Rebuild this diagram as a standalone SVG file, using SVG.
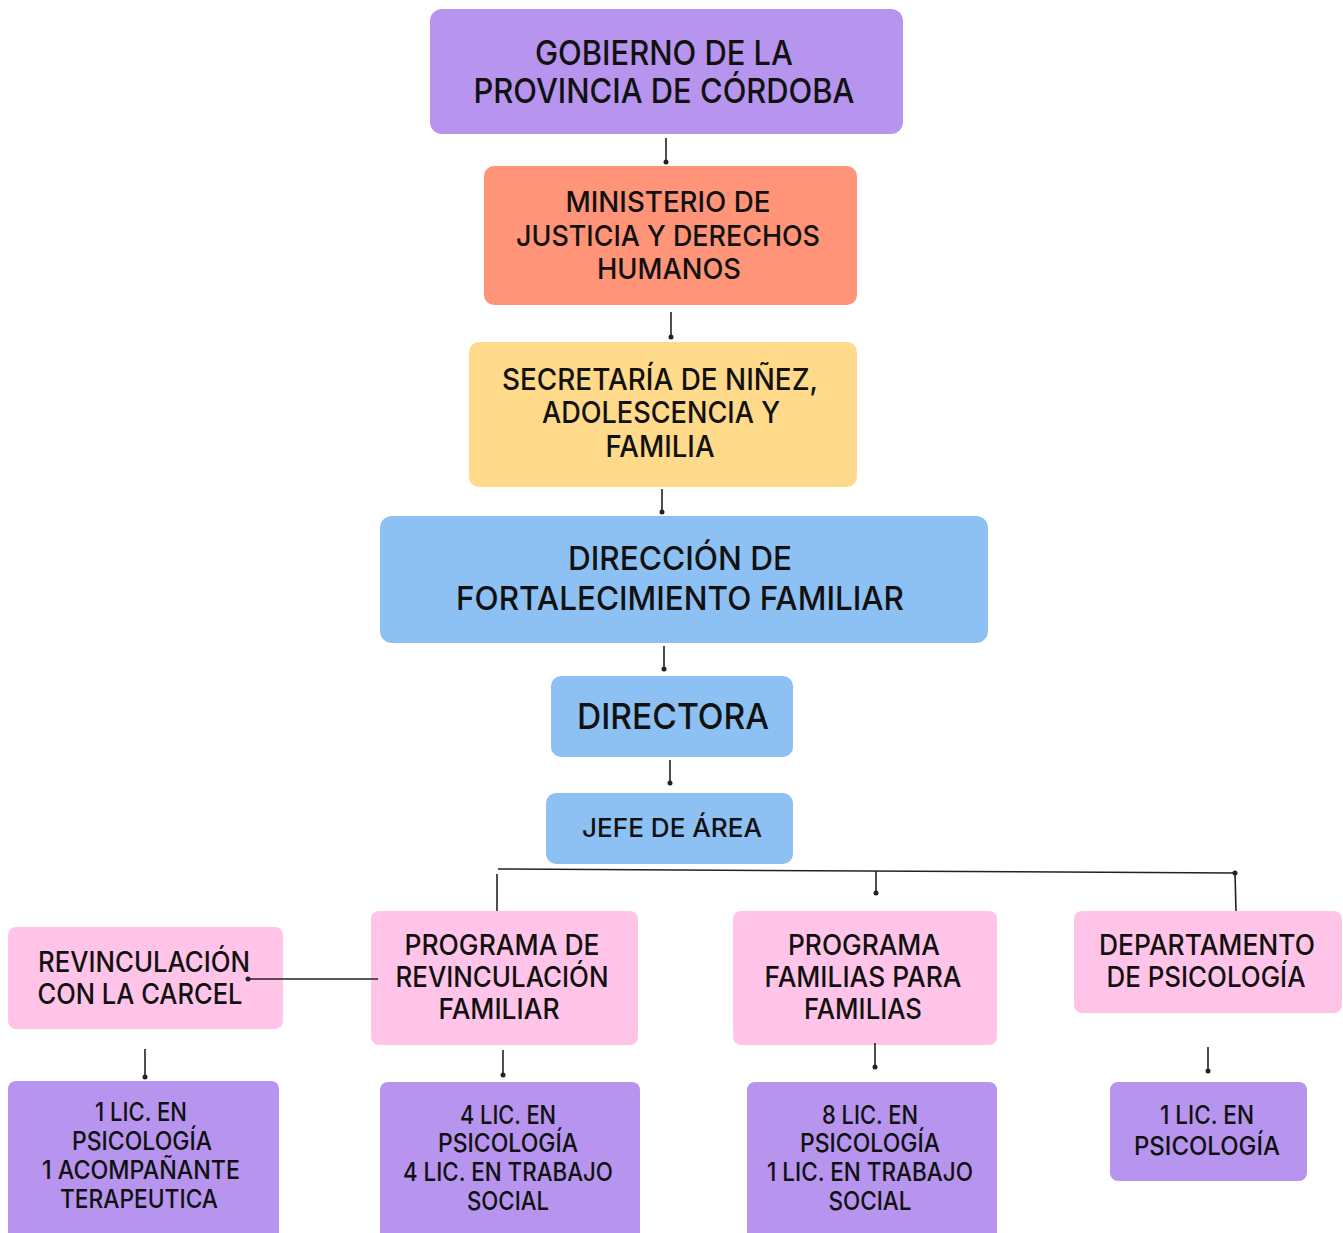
<svg xmlns="http://www.w3.org/2000/svg" width="1343" height="1233" viewBox="0 0 1343 1233">
<style>
text{font-family:Inter,"Liberation Sans",sans-serif;font-weight:550;fill:#111;text-anchor:middle}
.c{stroke:#222;stroke-width:1.6;fill:none}
.pur{fill:#B794EE}.sal{fill:#FF9478}.yel{fill:#FEDA8A}.blu{fill:#8DC0F3}.pin{fill:#FFC4E8}
</style>
<defs>
<marker id="dot" markerWidth="6" markerHeight="6" refX="3" refY="3" markerUnits="userSpaceOnUse"><circle cx="3" cy="3" r="2.5" fill="#222"/></marker>
</defs>
<rect width="1343" height="1233" fill="#fff"/>
<g id="gobierno">
<rect class="pur" x="430" y="9" width="473" height="125" rx="12"/>
<text x="664" y="65" font-size="34" textLength="258" lengthAdjust="spacingAndGlyphs">GOBIERNO DE LA</text>
<text x="664" y="103" font-size="34" textLength="381" lengthAdjust="spacingAndGlyphs">PROVINCIA DE CÓRDOBA</text>
</g>
<g id="ministerio">
<rect class="sal" x="484" y="166" width="373" height="139" rx="10"/>
<text x="668" y="212" font-size="29" textLength="205" lengthAdjust="spacingAndGlyphs">MINISTERIO DE</text>
<text x="668" y="246" font-size="29" textLength="304" lengthAdjust="spacingAndGlyphs">JUSTICIA Y DERECHOS</text>
<text x="669" y="279" font-size="29" textLength="144" lengthAdjust="spacingAndGlyphs">HUMANOS</text>
</g>
<g id="secretaria">
<rect class="yel" x="469" y="342" width="388" height="145" rx="10"/>
<text x="660" y="390" font-size="30" textLength="316" lengthAdjust="spacingAndGlyphs">SECRETARÍA DE NIÑEZ,</text>
<text x="661" y="423" font-size="30" textLength="238" lengthAdjust="spacingAndGlyphs">ADOLESCENCIA Y</text>
<text x="660" y="457" font-size="30" textLength="109" lengthAdjust="spacingAndGlyphs">FAMILIA</text>
</g>
<g id="direccion">
<rect class="blu" x="380" y="516" width="608" height="127" rx="12"/>
<text x="680" y="570" font-size="33" textLength="224" lengthAdjust="spacingAndGlyphs">DIRECCIÓN DE</text>
<text x="680" y="610" font-size="33" textLength="448" lengthAdjust="spacingAndGlyphs">FORTALECIMIENTO FAMILIAR</text>
</g>
<g id="directora">
<rect class="blu" x="551" y="676" width="242" height="81" rx="10"/>
<text x="673" y="729" font-size="36" textLength="192" lengthAdjust="spacingAndGlyphs">DIRECTORA</text>
</g>
<g id="jefe">
<rect class="blu" x="546" y="793" width="247" height="71" rx="10"/>
<text x="672" y="837" font-size="25" textLength="180" lengthAdjust="spacingAndGlyphs">JEFE DE ÁREA</text>
</g>
<g id="revinc-carcel">
<rect class="pin" x="8" y="927" width="275" height="102" rx="8"/>
<text x="144" y="972" font-size="28" textLength="212" lengthAdjust="spacingAndGlyphs">REVINCULACIÓN</text>
<text x="140" y="1004" font-size="28" textLength="205" lengthAdjust="spacingAndGlyphs">CON LA CARCEL</text>
</g>
<g id="prog-revinc">
<rect class="pin" x="371" y="911" width="267" height="134" rx="8"/>
<text x="502" y="955" font-size="28" textLength="195" lengthAdjust="spacingAndGlyphs">PROGRAMA DE</text>
<text x="502" y="987" font-size="28" textLength="213" lengthAdjust="spacingAndGlyphs">REVINCULACIÓN</text>
<text x="499" y="1019" font-size="28" textLength="121" lengthAdjust="spacingAndGlyphs">FAMILIAR</text>
</g>
<g id="prog-familias">
<rect class="pin" x="733" y="911" width="264" height="134" rx="8"/>
<text x="864" y="955" font-size="28" textLength="152" lengthAdjust="spacingAndGlyphs">PROGRAMA</text>
<text x="863" y="987" font-size="28" textLength="197" lengthAdjust="spacingAndGlyphs">FAMILIAS PARA</text>
<text x="863" y="1019" font-size="28" textLength="118" lengthAdjust="spacingAndGlyphs">FAMILIAS</text>
</g>
<g id="depto-psico">
<rect class="pin" x="1074" y="911" width="268" height="102" rx="8"/>
<text x="1207" y="955" font-size="28" textLength="216" lengthAdjust="spacingAndGlyphs">DEPARTAMENTO</text>
<text x="1206" y="987" font-size="28" textLength="199" lengthAdjust="spacingAndGlyphs">DE PSICOLOGÍA</text>
</g>
<g id="staff-carcel">
<rect class="pur" x="8" y="1081" width="271" height="165" rx="8"/>
<text x="141" y="1121" font-size="25" textLength="92" lengthAdjust="spacingAndGlyphs">1 LIC. EN</text>
<text x="142" y="1150" font-size="25" textLength="140" lengthAdjust="spacingAndGlyphs">PSICOLOGÍA</text>
<text x="141" y="1179" font-size="25" textLength="198" lengthAdjust="spacingAndGlyphs">1 ACOMPAÑANTE</text>
<text x="139" y="1208" font-size="25" textLength="158" lengthAdjust="spacingAndGlyphs">TERAPEUTICA</text>
</g>
<g id="staff-revinc">
<rect class="pur" x="380" y="1082" width="260" height="165" rx="8"/>
<text x="508" y="1124" font-size="25" textLength="96" lengthAdjust="spacingAndGlyphs">4 LIC. EN</text>
<text x="508" y="1152" font-size="25" textLength="140" lengthAdjust="spacingAndGlyphs">PSICOLOGÍA</text>
<text x="508" y="1181" font-size="25" textLength="210" lengthAdjust="spacingAndGlyphs">4 LIC. EN TRABAJO</text>
<text x="508" y="1210" font-size="25" textLength="82" lengthAdjust="spacingAndGlyphs">SOCIAL</text>
</g>
<g id="staff-familias">
<rect class="pur" x="747" y="1082" width="250" height="165" rx="8"/>
<text x="870" y="1124" font-size="25" textLength="96" lengthAdjust="spacingAndGlyphs">8 LIC. EN</text>
<text x="870" y="1152" font-size="25" textLength="140" lengthAdjust="spacingAndGlyphs">PSICOLOGÍA</text>
<text x="870" y="1181" font-size="25" textLength="206" lengthAdjust="spacingAndGlyphs">1 LIC. EN TRABAJO</text>
<text x="870" y="1210" font-size="25" textLength="83" lengthAdjust="spacingAndGlyphs">SOCIAL</text>
</g>
<g id="staff-psico">
<rect class="pur" x="1110" y="1082" width="197" height="99" rx="8"/>
<text x="1207" y="1124" font-size="25" textLength="94" lengthAdjust="spacingAndGlyphs">1 LIC. EN</text>
<text x="1207" y="1155" font-size="25" textLength="146" lengthAdjust="spacingAndGlyphs">PSICOLOGÍA</text>
</g>
<g id="connectors">
<line class="c" x1="666" y1="138" x2="666" y2="162" marker-end="url(#dot)"/>
<line class="c" x1="671" y1="312" x2="671" y2="337" marker-end="url(#dot)"/>
<line class="c" x1="662" y1="489" x2="662" y2="512" marker-end="url(#dot)"/>
<line class="c" x1="664" y1="646" x2="664" y2="669" marker-end="url(#dot)"/>
<line class="c" x1="670" y1="760" x2="670" y2="783" marker-end="url(#dot)"/>
<line class="c" x1="498" y1="869" x2="1235" y2="873" marker-end="url(#dot)"/>
<line class="c" x1="497" y1="874" x2="497" y2="911"/>
<line class="c" x1="876" y1="871" x2="876" y2="893" marker-end="url(#dot)"/>
<line class="c" x1="1235" y1="873" x2="1236" y2="911"/>
<line class="c" x1="378" y1="979" x2="248" y2="979" marker-end="url(#dot)"/>
<line class="c" x1="145" y1="1049" x2="145" y2="1077" marker-end="url(#dot)"/>
<line class="c" x1="503" y1="1050" x2="503" y2="1075" marker-end="url(#dot)"/>
<line class="c" x1="875" y1="1043" x2="875" y2="1067" marker-end="url(#dot)"/>
<line class="c" x1="1208" y1="1047" x2="1208" y2="1071" marker-end="url(#dot)"/>
</g>
</svg>
